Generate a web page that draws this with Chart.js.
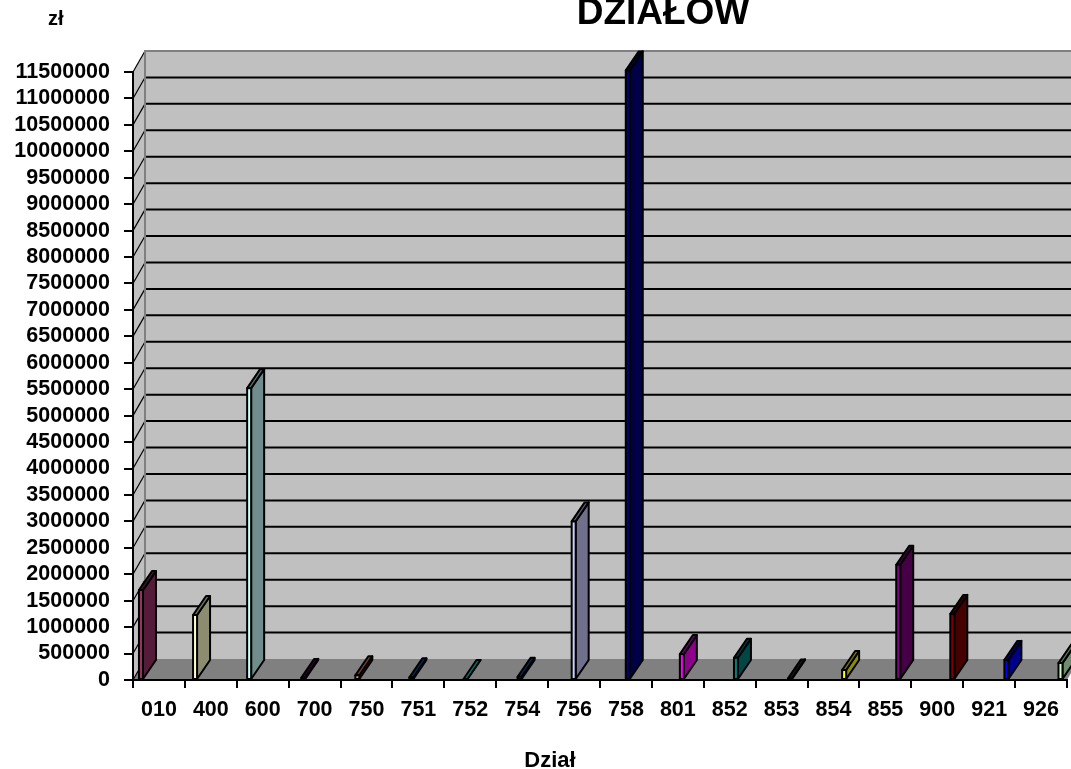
<!DOCTYPE html>
<html>
<head>
<meta charset="utf-8">
<script src="https://cdn.jsdelivr.net/npm/chart.js@4.4.1/dist/chart.umd.min.js"></script>
<style>
  html, body { margin: 0; padding: 0; background: #fff; overflow: hidden; }
  canvas { display: block; }
</style>
</head>
<body>
<canvas id="chart" width="1071" height="769"></canvas>
<script>
// dane wykresu
const dzialy = ['010', '400', '600', '700', '750', '751', '752', '754', '756', '758', '801', '852', '853', '854', '855', '900', '921', '926'];
const kwoty = [1700000, 1230000, 5520000, 40000, 90000, 50000, 20000, 60000, 3000000, 11530000, 490000, 420000, 30000, 190000, 2180000, 1250000, 380000, 320000];
const yMax = 11500000;
const yKrok = 500000;

// kolory słupków (przód), boki są przyciemniane
const kolory = ['#993366', '#FFFFCC', '#CCFFFF', '#660066', '#FF8080', '#0066CC', '#00FFFF', '#0066CC', '#CCCCFF', '#000080',
                '#FF00FF', '#008080', '#333333', '#FFFF00', '#800080', '#800000', '#0000FF', '#CCFFCC'];

const tytul = 'DZIAŁÓW';
const tytulOsY = 'zł';
const tytulOsX = 'Dział';

const FONT = '"Liberation Sans", Arial, sans-serif';
const wall = { dx: 12, dy: -21 };
const bar = { dx: 13, dy: -19, w: 4, shift: 0.115, spread: 1.0424 };

function shade(hex, k) {
    const n = parseInt(hex.slice(1), 16);
    const r = Math.round(((n >> 16) & 255) * k);
    const g = Math.round(((n >> 8) & 255) * k);
    const b = Math.round((n & 255) * k);
    return `rgb(${r},${g},${b})`;
}

function poly(ctx, pts, fill) {
    ctx.beginPath();
    ctx.moveTo(pts[0][0], pts[0][1]);
    for (let i = 1; i < pts.length; i++) ctx.lineTo(pts[i][0], pts[i][1]);
    ctx.closePath();
    if (fill) { ctx.fillStyle = fill; ctx.fill(); }
}

// ściany i podłoga
const walls3d = {
    id: 'walls3d',
    beforeDraw(chart) {
        const { ctx, chartArea: a, scales: { y } } = chart;
        const { dx, dy } = wall;
        ctx.save();
        ctx.fillStyle = '#c0c0c0';
        ctx.fillRect(a.left + dx, a.top + dy, chart.width, a.bottom - a.top);
        poly(ctx, [[a.left, a.bottom], [a.left, a.top], [a.left + dx, a.top + dy], [a.left + dx, a.bottom + dy]], '#c0c0c0');
        poly(ctx, [[a.left, a.bottom], [a.right, a.bottom], [a.right + dx, a.bottom + dy], [a.left + dx, a.bottom + dy]], '#808080');

        y.ticks.forEach(t => {
            const py = y.getPixelForValue(t.value);
            if (t.value > 0 && t.value < yMax) {
                ctx.strokeStyle = '#000';
                ctx.lineWidth = 2;
                ctx.beginPath();
                ctx.moveTo(a.left + dx, py + dy);
                ctx.lineTo(chart.width, py + dy);
                ctx.stroke();
            }
            ctx.strokeStyle = '#000';
            ctx.lineWidth = 1.2;
            ctx.beginPath();
            ctx.moveTo(a.left, py);
            ctx.lineTo(a.left + dx, py + dy);
            ctx.stroke();
        });

        // krawędzie ściany tylnej
        ctx.strokeStyle = '#808080';
        ctx.lineWidth = 2;
        ctx.beginPath();
        ctx.moveTo(a.left + dx, a.bottom + dy);
        ctx.lineTo(a.left + dx, a.top + dy);
        ctx.lineTo(chart.width, a.top + dy);
        ctx.stroke();
        ctx.restore();
    }
};

// słupki 3D
const bars3d = {
    id: 'bars3d',
    afterDatasetsDraw(chart) {
        const { ctx, scales: { x } } = chart;
        const meta = chart.getDatasetMeta(0);
        const step = x.getPixelForValue(1) - x.getPixelForValue(0);
        const left0 = x.getPixelForValue(0) - step / 2;
        const { dx, dy, w } = bar;
        ctx.save();
        ctx.strokeStyle = '#000';
        ctx.lineWidth = 2;
        ctx.lineJoin = 'round';
        meta.data.forEach((el, i) => {
            const fx = left0 + step * (bar.shift + bar.spread * i);
            const top = el.y;
            const base = el.base;
            const c = kolory[i];
            poly(ctx, [[fx + w, base], [fx + w, top], [fx + w + dx, top + dy], [fx + w + dx, base + dy]], shade(c, 0.55));
            ctx.stroke();
            poly(ctx, [[fx, top], [fx + w, top], [fx + w + dx, top + dy], [fx + dx, top + dy]], shade(c, 0.45));
            ctx.stroke();
            poly(ctx, [[fx, base], [fx, top], [fx + w, top], [fx + w, base]], c);
            ctx.stroke();
        });
        ctx.restore();
    }
};

// napisy
const napisy = {
    id: 'napisy',
    afterDraw(chart) {
        const ctx = chart.ctx;
        ctx.save();
        ctx.fillStyle = '#000';
        ctx.textBaseline = 'alphabetic';
        ctx.textAlign = 'center';
        ctx.font = `bold 37px ${FONT}`;
        ctx.fillText(tytul, 663, 24);
        ctx.font = `bold 22px ${FONT}`;
        ctx.fillText(tytulOsX, 550, 767);
        ctx.textAlign = 'left';
        ctx.font = `bold 20px ${FONT}`;
        ctx.fillText(tytulOsY, 48, 25);
        ctx.restore();
    }
};

const tickFont = { family: FONT, size: 21.5, weight: 'bold' };

new Chart(document.getElementById('chart'), {
    type: 'bar',
    data: {
        labels: dzialy,
        datasets: [{
            data: kwoty,
            backgroundColor: 'rgba(0,0,0,0)',
            borderWidth: 0
        }]
    },
    options: {
        responsive: false,
        animation: false,
        events: [],
        layout: { padding: { top: 72, right: 4, bottom: 49, left: 0 } },
        plugins: {
            legend: { display: false },
            title: { display: false },
            tooltip: { enabled: false }
        },
        scales: {
            x: {
                offset: true,
                grid: { drawOnChartArea: false, tickLength: 8, color: '#000', lineWidth: 2, offset: true },
                border: { color: '#000', width: 2 },
                ticks: { color: '#000', font: tickFont, padding: 9, autoSkip: false, maxRotation: 0 },
                afterFit: s => { s.height = 40; }
            },
            y: {
                min: 0,
                max: yMax,
                grid: { drawOnChartArea: false, tickLength: 9, color: '#000', lineWidth: 2 },
                border: { color: '#000', width: 2 },
                ticks: { stepSize: yKrok, autoSkip: false, color: '#000', font: tickFont, padding: 14, callback: v => String(v) },
                afterFit: s => { s.width = 133; }
            }
        }
    },
    plugins: [walls3d, bars3d, napisy]
});
</script>
</body>
</html>
